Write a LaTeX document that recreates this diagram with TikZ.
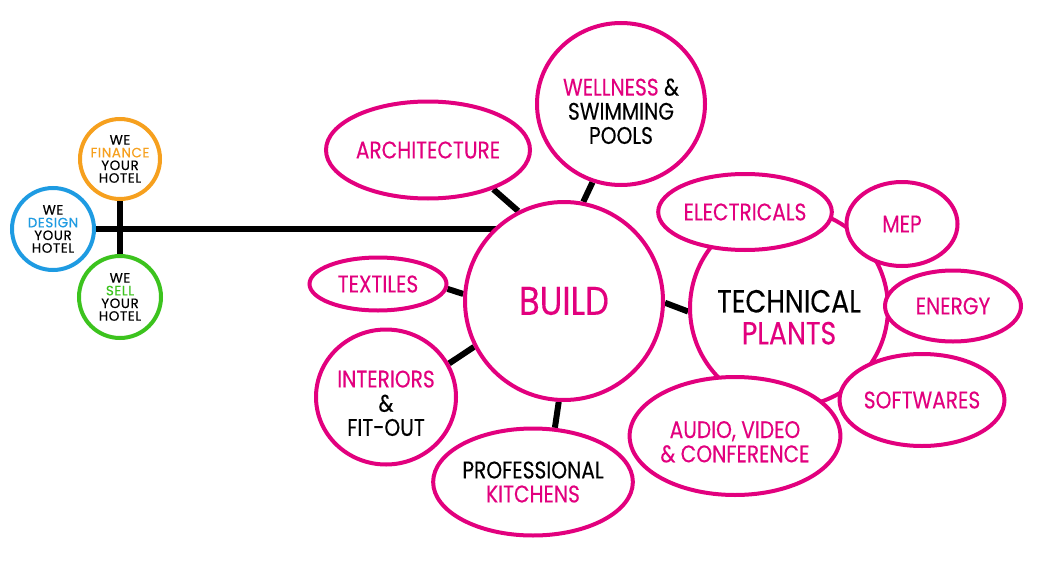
\documentclass[tikz,border=0pt]{standalone}
\usepackage{fontspec}
\setmainfont{Poppins}[FakeStretch=0.84,FakeBold=0.25]
\newfontfamily\hotelfont{Poppins}[FakeBold=0.3,LetterSpace=4]
\usetikzlibrary{shapes.geometric,backgrounds}
\definecolor{pinkc}{RGB}{226,0,126}
\definecolor{orangec}{RGB}{246,160,30}
\definecolor{bluec}{RGB}{30,155,226}
\definecolor{greenc}{RGB}{60,195,30}
\newcommand{\lowered}[2]{\raisebox{-#1}[0pt][0pt]{\begin{tabular}{@{}c@{}}#2\end{tabular}}}
\begin{document}
\begin{tikzpicture}[x=1pt,y=-1pt,
  bub/.style={ellipse, draw=pinkc, line width=4pt, fill=white, inner sep=0pt,
    align=center, text=pinkc, font=\fontsize{24}{24}\selectfont},
  hotel/.style={circle, line width=4pt, fill=white, inner sep=0pt,
    minimum size=80pt, align=center, font=\hotelfont\fontsize{13.5}{12.7}\selectfont},
  link/.style={line width=6pt, draw=black}]
\useasboundingbox (0,0) rectangle (1041,578);

% hotel circles
\node[hotel, draw=orangec] (finance) at (120,159) {WE\\\textcolor{orangec}{FINANCE}\\YOUR\\HOTEL};
\node[hotel, draw=bluec, minimum size=82pt] (design) at (53,229) {WE\\\textcolor{bluec}{DESIGN}\\YOUR\\HOTEL};
\node[hotel, draw=greenc, minimum size=82pt] (sell) at (120,297) {WE\\\textcolor{greenc}{SELL}\\YOUR\\HOTEL};

% central nodes
\node[bub, circle, minimum size=198pt, font=\fontsize{40}{40}\selectfont] (build) at (564,301) {BUILD};
\node[bub, circle, minimum size=198pt, font=\fontsize{32}{31}\selectfont] (tech) at (789,308)
  {\lowered{20pt}{\textcolor{black}{TECHNICAL}\\PLANTS}};

% build satellites
\node[bub, minimum width=194pt, minimum height=97pt] (arch) at (428,150) {ARCHITECTURE};
\node[bub, minimum width=168pt, minimum height=162pt] (well) at (621,104)
  {\lowered{17pt}{WELLNESS \textcolor{black}{\&}\\\textcolor{black}{SWIMMING}\\\textcolor{black}{POOLS}}};
\node[bub, minimum width=137pt, minimum height=53pt] (textiles) at (378,284) {TEXTILES};
\node[bub, minimum width=140pt, minimum height=135pt] (interiors) at (386,397)
  {\lowered{16pt}{INTERIORS\\\textcolor{black}{\&}\\\textcolor{black}{FIT-OUT}}};
\node[bub, minimum width=185pt, minimum height=107pt] (kitchens) at (533,482)
  {\textcolor{black}{PROFESSIONAL}\\KITCHENS};

% technical satellites
\node[bub, minimum width=173pt, minimum height=76pt] (elec) at (745,212) {ELECTRICALS};
\node[bub, minimum width=111pt, minimum height=84pt] (mep) at (902,224) {MEP};
\node[bub, minimum width=136pt, minimum height=71pt] (energy) at (953,306) {ENERGY};
\node[bub, minimum width=165pt, minimum height=92pt] (soft) at (922,400) {SOFTWARES};
\node[bub, minimum width=201pt, minimum height=118pt] (audio) at (735,436)
  {\lowered{15.5pt}{AUDIO, VIDEO\\\& CONFERENCE}};

% connectors
\begin{pgfonlayer}{background}
\draw[link] (finance.south) -- (sell.north);
\draw[link] (design.east) -- (design.east -| build.center);
\draw[link] (arch.-31) -- (build.117);
\draw[link] (well.250) -- (build.79);
\draw[link] (textiles.-4) -- (build.176);
\draw[link] (interiors.28) -- (build.207);
\draw[link] (kitchens.68) -- (build.267);
\draw[link] (build.-1) -- (tech.182);
\end{pgfonlayer}
\end{tikzpicture}
\end{document}
